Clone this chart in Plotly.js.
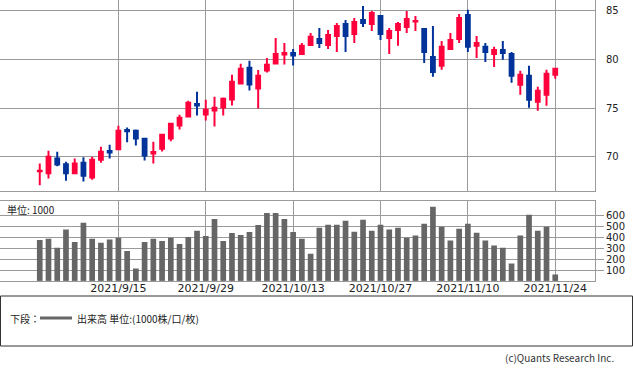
<!DOCTYPE html>
<html>
<head>
<meta charset="utf-8">
<script src="https://cdn.plot.ly/plotly-3.0.1.min.js"></script>
<style>html,body{margin:0;padding:0;background:#fff;}#chart{width:633px;height:371px;}</style>
</head>
<body>
<div id="chart"></div>
<script>
const dates = ["2021/9/2","2021/9/3","2021/9/6","2021/9/7","2021/9/8","2021/9/9","2021/9/10","2021/9/13","2021/9/14","2021/9/15",
"2021/9/16","2021/9/17","2021/9/20","2021/9/21","2021/9/22","2021/9/23","2021/9/24","2021/9/27","2021/9/28","2021/9/29",
"2021/9/30","2021/10/1","2021/10/4","2021/10/5","2021/10/6","2021/10/7","2021/10/8","2021/10/11","2021/10/12","2021/10/13",
"2021/10/14","2021/10/15","2021/10/18","2021/10/19","2021/10/20","2021/10/21","2021/10/22","2021/10/25","2021/10/26","2021/10/27",
"2021/10/28","2021/10/29","2021/11/1","2021/11/2","2021/11/3","2021/11/4","2021/11/5","2021/11/8","2021/11/9","2021/11/10",
"2021/11/11","2021/11/12","2021/11/15","2021/11/16","2021/11/17","2021/11/18","2021/11/19","2021/11/22","2021/11/23","2021/11/24"];

const openP = [68.55,68.33,69.83,69.25,68.33,69.42,67.89,69.72,70.62,70.78,
72.75,72.69,71.87,70.35,70.85,71.9,73.22,74.14,75.42,74.35,
74.76,75.06,75.88,77.51,79.11,77.0,78.84,79.55,80.47,80.64,
80.54,81.46,82.07,81.46,82.38,83.6,82.58,84.01,83.6,84.42,
82.17,82.99,83.3,83.84,83.09,80.23,79.32,81.05,82.07,84.52,
81.36,81.26,80.54,80.95,80.54,77.38,78.3,75.64,76.36,78.4];
const highP = [69.32,70.64,70.54,69.52,69.83,69.96,70.03,71.05,71.26,73.2,
73.02,72.8,71.97,71.56,72.38,73.5,74.32,75.74,76.66,75.85,
76.15,76.08,78.4,79.52,79.83,78.9,80.13,82.17,81.66,81.05,
81.66,82.68,83.2,82.99,83.7,84.01,84.21,85.44,84.93,84.52,
83.2,83.81,84.93,84.42,83.15,83.4,81.87,82.68,84.62,85.05,
82.38,81.66,81.26,81.87,80.74,78.81,79.32,77.17,78.91,79.11];
const lowP = [67.1,67.79,69.04,67.58,68.3,67.48,67.68,69.42,69.85,70.7,
71.5,71.18,69.65,69.33,70.57,71.6,72.82,74.1,74.24,73.73,
73.12,74.24,75.27,77.41,76.8,74.96,78.63,79.5,79.45,79.35,
80.44,81.4,81.15,81.05,80.74,80.74,81.66,83.3,82.89,81.97,
80.54,81.36,82.68,82.89,79.62,78.19,78.91,80.95,81.66,80.74,
80.13,79.72,79.21,79.93,77.58,76.36,75.03,74.72,75.23,77.99];
const closeP = [68.6,70.03,69.22,68.33,69.32,68.09,69.72,70.54,70.45,72.69,
72.62,71.9,70.16,70.5,72.28,73.4,74.0,75.54,75.27,74.83,
75.03,75.95,77.68,79.01,77.41,78.3,79.42,80.54,80.64,80.37,
81.36,82.28,81.66,82.48,83.4,82.38,83.81,83.7,84.72,82.58,
82.89,83.6,84.11,83.91,80.74,78.7,81.26,81.97,84.21,81.26,
81.66,80.74,80.95,80.64,78.3,78.4,75.85,76.77,78.5,79.01];
const volume = [377,389,306,472,359,536,389,352,380,398,
276,114,359,389,368,398,340,404,462,414,
570,368,441,423,450,515,625,625,570,450,
389,249,490,517,517,554,453,563,462,517,
472,490,398,417,527,683,499,371,481,527,
444,371,325,306,160,417,609,462,499,59];

const tickDates = ["2021/9/15","2021/9/29","2021/10/13","2021/10/27","2021/11/10","2021/11/24"];
const priceTicks = [70,75,80,85];
const volTicks = [100,200,300,400,500,600];

const W = 633, H = 371;
const px = v => v / W;
const py = v => 1 - v / H;
const grid = '#9a9a9a';
const tickFont = {family: 'DejaVu Sans', size: 10, color: '#222'};
const RED = '#ff003c', BLUE = '#003399';

const traces = [
  {
    type: 'candlestick', x: dates, open: openP, high: highP, low: lowP, close: closeP,
    xaxis: 'x2', yaxis: 'y',
    increasing: {line: {color: RED, width: 2}, fillcolor: RED},
    decreasing: {line: {color: BLUE, width: 2}, fillcolor: BLUE},
    whiskerwidth: 0, hoverinfo: 'skip'
  },
  {
    type: 'bar', x: dates, y: volume, xaxis: 'x', yaxis: 'y2',
    marker: {color: '#666666', line: {width: 0}}, hoverinfo: 'skip'
  }
];

const xRange = [-4.55, 63.55];
const layout = {
  width: W, height: H,
  margin: {l: 0, r: 0, t: 0, b: 0},
  paper_bgcolor: '#fff', plot_bgcolor: '#fff',
  showlegend: false,
  boxgap: 0.38,
  bargap: 0.35,
  xaxis: {
    type: 'category', domain: [0, px(595)], anchor: 'y2', range: xRange,
    tickmode: 'array', tickvals: tickDates, ticktext: tickDates,
    showgrid: true, gridcolor: grid, gridwidth: 1,
    showline: true, mirror: true, linecolor: grid, linewidth: 1,
    ticks: '', ticklabelstandoff: -3,
    tickfont: {family: 'DejaVu Sans', size: 11, color: '#222'},
    automargin: false, fixedrange: true
  },
  xaxis2: {
    type: 'category', domain: [0, px(595)], anchor: 'y', matches: 'x', range: xRange,
    tickmode: 'array', tickvals: tickDates, showticklabels: false,
    showgrid: true, gridcolor: grid, gridwidth: 1,
    showline: true, mirror: true, linecolor: grid, linewidth: 1,
    ticks: '', rangeslider: {visible: false}, automargin: false
  },
  yaxis: {
    domain: [py(190.7), py(0.3)], range: [66.55, 86.02], side: 'right', anchor: 'x2',
    tickmode: 'array', tickvals: priceTicks,
    showgrid: true, gridcolor: grid, gridwidth: 1, zeroline: false,
    showline: true, mirror: true, linecolor: grid, linewidth: 1,
    ticks: 'outside', ticklen: 8, tickcolor: 'rgba(0,0,0,0)',
    tickfont: tickFont, automargin: false
  },
  yaxis2: {
    domain: [py(280.9), py(200.7)], range: [0, 738], side: 'right', anchor: 'x',
    tickmode: 'array', tickvals: volTicks,
    showgrid: true, gridcolor: grid, gridwidth: 1, zeroline: false,
    showline: true, mirror: true, linecolor: grid, linewidth: 1,
    ticks: 'outside', ticklen: 8, tickcolor: grid,
    tickfont: tickFont, automargin: false
  },
  shapes: [
    {type: 'rect', xref: 'paper', yref: 'paper', x0: px(0.5), x1: px(632.5), y0: py(346), y1: py(296),
     line: {color: '#333', width: 1}, fillcolor: 'rgba(0,0,0,0)'},
    {type: 'line', xref: 'paper', yref: 'paper', x0: px(40), x1: px(72), y0: py(318), y1: py(318),
     line: {color: '#666666', width: 3}}
  ],
  annotations: [
    {xref: 'paper', yref: 'paper', x: px(5), y: py(209), xanchor: 'left', yanchor: 'middle', showarrow: false,
     text: '単位: 1000', font: {family: 'Noto Sans CJK JP', size: 10, color: '#222'}},
    {xref: 'paper', yref: 'paper', x: px(8), y: py(318), xanchor: 'left', yanchor: 'middle', showarrow: false,
     text: '下段：', font: {family: 'Noto Sans CJK JP', size: 10, color: '#222'}},
    {xref: 'paper', yref: 'paper', x: px(75), y: py(318), xanchor: 'left', yanchor: 'middle', showarrow: false,
     text: '出来高 単位:(1000株/口/枚)', font: {family: 'Noto Sans CJK JP', size: 10, color: '#222'}},
    {xref: 'paper', yref: 'paper', x: px(616), y: py(357), xanchor: 'right', yanchor: 'middle', showarrow: false,
     text: '(c)Quants Research Inc.', font: {family: 'Noto Sans CJK JP', size: 10, color: '#333'}}
  ]
};

Plotly.newPlot('chart', traces, layout, {staticPlot: true, displayModeBar: false});
</script>
</body>
</html>
